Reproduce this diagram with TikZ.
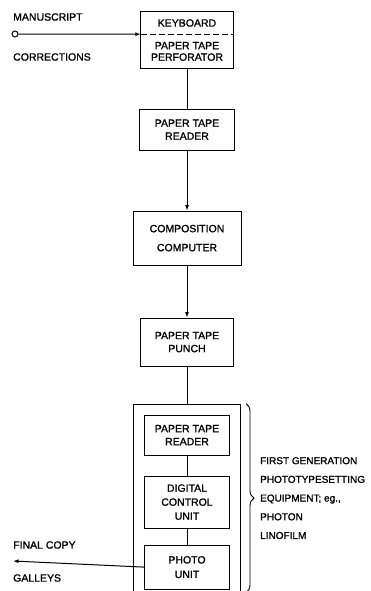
\documentclass[tikz,border=0pt]{standalone}
\usepackage{fontspec}
\setmainfont{Liberation Sans}[FakeBold=1.2]
\usetikzlibrary{arrows.meta}
\usetikzlibrary{positioning}
\usetikzlibrary{decorations.pathreplacing}

\begin{document}
\begin{tikzpicture}[
    x=1pt, y=-1pt,
    block/.style={rectangle, draw, line width=1pt, inner sep=0pt,
      align=center, font=\fontsize{10.5}{13}\selectfont},
    part/.style={rectangle, inner sep=0pt, align=center,
      font=\fontsize{10.5}{11.5}\selectfont},
    lbl/.style={anchor=west, inner sep=0pt, font=\fontsize{10.5}{13}\selectfont},
    arrow/.style={-{Latex[length=5.5pt, width=4pt]}, line width=1pt},
    link/.style={line width=1pt},
  ]
  \useasboundingbox (0,0) rectangle (370,591);

  % keyboard and perforator in one frame
  \node[part, minimum width=92pt, minimum height=22pt] (kbd) at (187,23) {KEYBOARD};
  \node[part, minimum width=92pt, minimum height=34pt, below=0pt of kbd] (perf) {PAPER TAPE\\PERFORATOR};
  \draw[line width=1pt] (kbd.north west) rectangle (perf.south east);
  \draw[line width=1pt, dash pattern=on 6pt off 3pt] (kbd.south west) -- (kbd.south east);

  \node[block, minimum width=95pt, minimum height=41pt, below=40pt of perf] (rdr) {PAPER TAPE\\READER};
  \node[block, minimum width=108pt, minimum height=54pt, below=60pt of rdr,
    font=\fontsize{10.5}{19}\selectfont] (comp) {COMPOSITION\\COMPUTER};
  \node[block, minimum width=93pt, minimum height=48pt, below=52pt of comp] (punch) {PAPER TAPE\\PUNCH};

  % phototypesetter
  \node[block, minimum width=107pt, minimum height=188pt, below=37pt of punch] (unit) {};
  \node[block, minimum width=85pt, minimum height=40pt, below=11pt of unit.north] (rdr2) {PAPER TAPE\\READER};
  \node[block, minimum width=85pt, minimum height=52pt, below=20pt of rdr2,
    font=\fontsize{10.5}{14}\selectfont] (dcu) {DIGITAL\\CONTROL\\UNIT};
  \node[block, minimum width=85pt, minimum height=44pt, below=16pt of dcu,
    font=\fontsize{10.5}{14.5}\selectfont] (photo) {PHOTO\\UNIT};

  \draw[decorate, decoration={brace, amplitude=8pt}, line width=0.9pt]
    ([xshift=5pt]unit.north east) -- ([xshift=5pt]unit.south east);
  \node[lbl, align=left, font=\fontsize{10}{18.7}\selectfont, xshift=19pt] (note) at (unit.east)
    {FIRST GENERATION\\PHOTOTYPESETTING\\EQUIPMENT; eg.,\\PHOTON\\LINOFILM};

  % input
  \node[circle, draw, line width=1pt, minimum size=6pt, inner sep=0pt] (src) at (15,34) {};
  \node[lbl] (ms) at (13,17) {MANUSCRIPT};
  \node[lbl] (corr) at (13,57) {CORRECTIONS};
  \draw[arrow] (src) -- (kbd.south west);

  % flow down the column
  \draw[link] (perf) -- (rdr);
  \draw[arrow] (rdr) -- (comp);
  \draw[arrow] (comp) -- (punch);
  \draw[link] (punch) -- (unit);
  \draw[link] (rdr2) -- (dcu);
  \draw[link] (dcu) -- (photo);

  % output
  \coordinate (out) at (13,561);
  \node[lbl] (fc) at (13,545) {FINAL COPY};
  \node[lbl] (gal) at (13,578) {GALLEYS};
  \draw[arrow] (photo.west) -- (out);
\end{tikzpicture}
\end{document}
